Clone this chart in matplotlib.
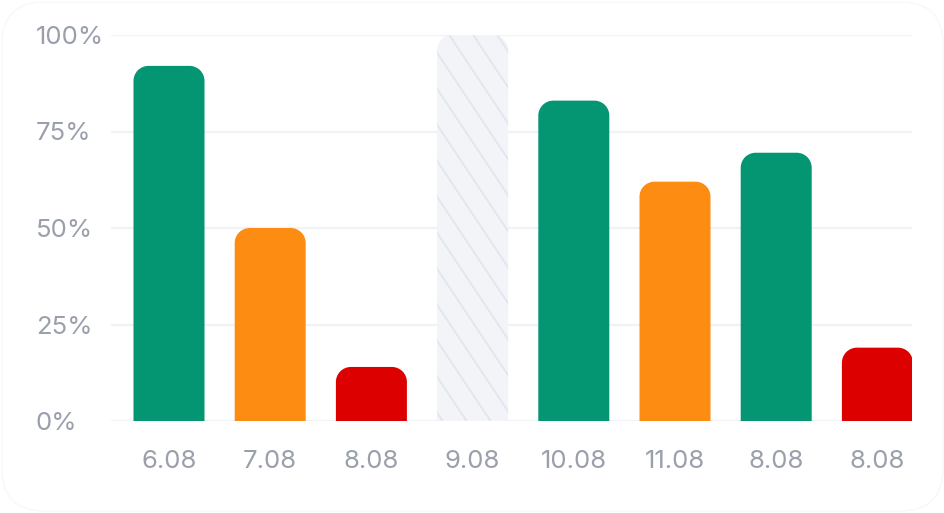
import matplotlib
matplotlib.use("Agg")
import numpy as np
import matplotlib.pyplot as plt
from matplotlib.patches import FancyBboxPatch, PathPatch
from matplotlib.path import Path

# data
labels = ["6.08", "7.08", "8.08", "9.08", "10.08", "11.08", "8.08", "8.08"]
values = [92, 50, 14, 100, 83, 62, 69.5, 19]
kinds = ["good", "mid", "bad", "empty", "good", "mid", "good", "bad"]
yticks = [0, 25, 50, 75, 100]

colors = {"good": "#049573", "mid": "#FD8C12", "bad": "#DC0000", "empty": "#F3F4F8"}
text_col = "#9A9FAC"
grid_col = "#F1F2F6"
hatch_col = "#E3E6EE"

plt.rcParams["font.family"] = ["Inter", "DejaVu Sans"]

W, H = 945, 513
fig = plt.figure(figsize=(W / 100, H / 100), dpi=100)
fig.patch.set_facecolor("white")
fig.patches.append(FancyBboxPatch((0.002, 0.004), 0.996, 0.992,
                                  boxstyle="round,pad=0,rounding_size=0.045",
                                  transform=fig.transFigure, facecolor="none",
                                  edgecolor="#F8F8FA", linewidth=1.0,
                                  mutation_aspect=W / H))

ax = fig.add_axes([111 / W, 1 - 421 / H, 801 / W, 386 / H])
px_x = 101.2          # pixels per category
px_y = 386 / 100      # pixels per percent
ax.set_xlim(-58 / px_x, 743 / px_x)
ax.set_ylim(0, 100)

bar_w = 71 / px_x
rx = 15 / px_x
ry = 15 / px_y


def top_rounded(x0, w, h):
    """bar path with rounded top corners (bottom goes below the axis and is clipped)"""
    x1 = x0 + w
    y0 = -5
    arc_l = Path.arc(90, 180)
    arc_r = Path.arc(0, 90)
    vl = arc_l.vertices[::-1] * [rx, ry] + [x0 + rx, h - ry]
    vr = arc_r.vertices[::-1] * [rx, ry] + [x1 - rx, h - ry]
    verts = [(x0, y0), (x0, h - ry)]
    codes = [Path.MOVETO, Path.LINETO]
    verts += list(vl[1:]); codes += list(arc_l.codes[1:])
    verts += [(x1 - rx, h)]; codes += [Path.LINETO]
    verts += list(vr[1:]); codes += list(arc_r.codes[1:])
    verts += [(x1, y0), (x0, y0)]; codes += [Path.LINETO, Path.CLOSEPOLY]
    return Path(verts, codes)


for i, (v, k) in enumerate(zip(values, kinds)):
    x0 = i - bar_w / 2
    patch = PathPatch(top_rounded(x0, bar_w, v), facecolor=colors[k],
                      linewidth=0, zorder=3)
    ax.add_patch(patch)
    if k == "empty":
        # diagonal stripes, ~24 px apart, falling to the right
        step = 24 / px_x
        slope = -1.5 * px_x / px_y
        for s in np.arange(-3.2, 1.0, step):
            xs = np.array([x0 + s, x0 + s + 3.5])
            ys = v + slope * (xs - (x0 + s))
            ln, = ax.plot(xs, ys, color=hatch_col, linewidth=1.4, zorder=4)
            ln.set_clip_path(patch)

ax.set_yticks(yticks)
ax.set_yticklabels([f"{t}%" for t in yticks], ha="left")
ax.set_xticks(range(len(labels)))
ax.set_xticklabels(labels)
ax.grid(axis="y", color=grid_col, linewidth=1.6, zorder=0)
ax.set_axisbelow(True)
for s in ax.spines.values():
    s.set_visible(False)
ax.tick_params(axis="both", length=0, colors=text_col, labelsize=18.5)
ax.tick_params(axis="y", pad=54)
ax.tick_params(axis="x", pad=21)

fig.savefig("out.png", dpi=100)
